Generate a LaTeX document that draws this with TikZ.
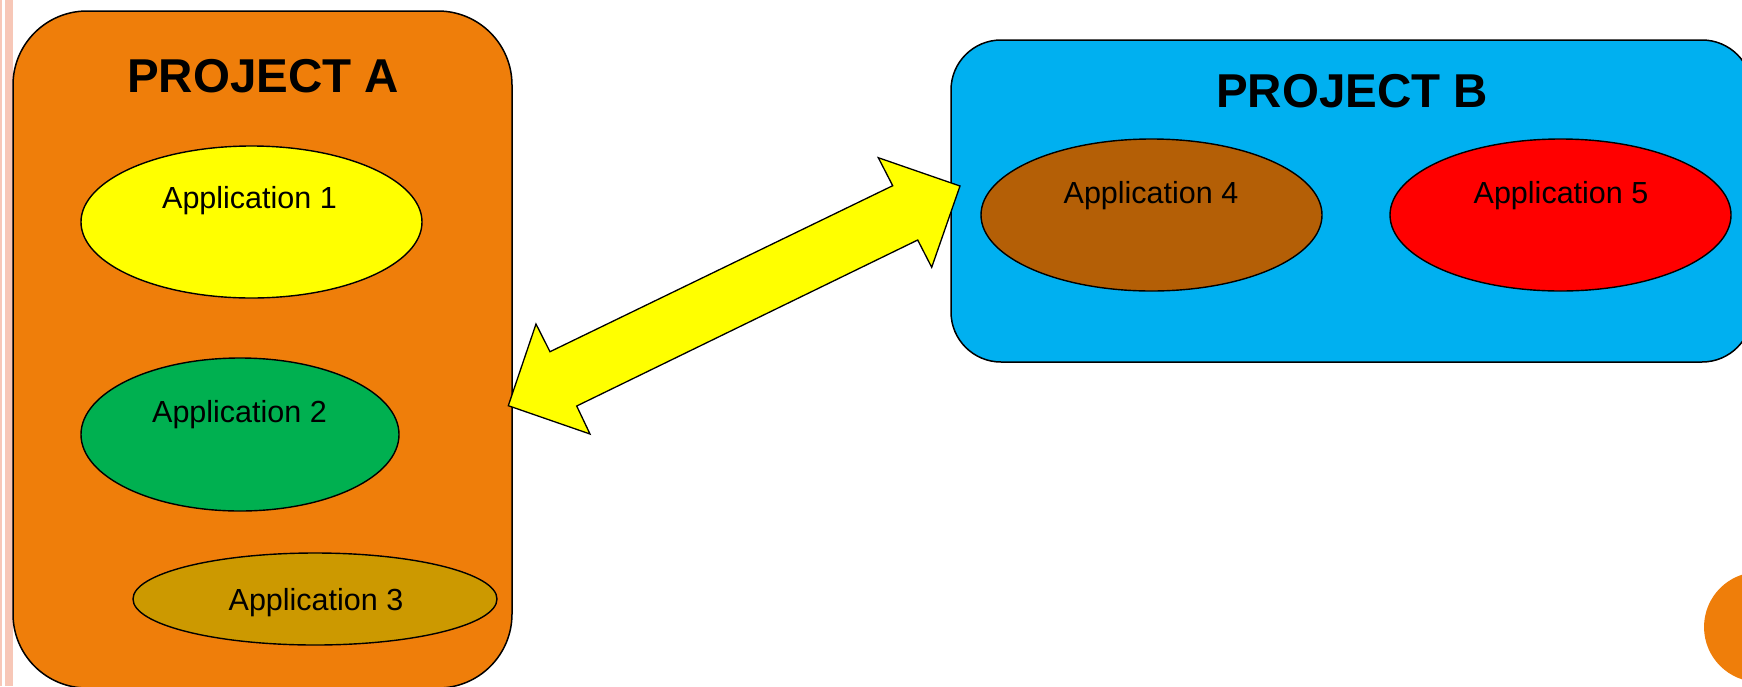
\documentclass[tikz,border=0pt]{standalone}
\usepackage{fontspec}
\setmainfont{Liberation Sans}
\usetikzlibrary{shapes.geometric}
\definecolor{projA}{HTML}{EF7E0A}
\definecolor{projB}{HTML}{00B0F0}
\definecolor{appyellow}{HTML}{FFFF00}
\definecolor{appgreen}{HTML}{00B050}
\definecolor{appgold}{HTML}{CC9900}
\definecolor{appbrown}{HTML}{B45F06}
\definecolor{appred}{HTML}{FF0000}
\definecolor{stripe}{HTML}{F7C7B7}
\tikzset{
  projbox/.style={draw=black, line width=1.5pt, inner sep=0pt},
  app/.style={ellipse, draw=black, line width=1.4pt, inner sep=0pt},
  applabel/.style={anchor=base, inner sep=0pt, font=\fontsize{30.5}{36}\selectfont},
  projtitle/.style={anchor=base, inner sep=0pt, font=\fontsize{47.5}{56}\selectfont\bfseries},
  bigarrow/.style={fill=appyellow, draw=black, line width=1.3pt, line join=miter}
}
\begin{document}
\begin{tikzpicture}[x=1pt,y=-1pt]
\useasboundingbox (0,0) rectangle (1742,686);
% slide decorations
\fill[stripe] (0,0) rectangle (2,686);
\fill[stripe] (4.5,0) rectangle (12.5,686);
\fill[projA] (1759,627) circle (55);
% project boxes
\node[projbox, fill=projA, rounded corners=74pt, minimum width=499pt, minimum height=677pt] (pa) at (262.5,349.5) {};
\node[projbox, fill=projB, rounded corners=50pt, minimum width=801pt, minimum height=322pt] (pb) at (1351.5,201) {};
\node[projtitle] (ta) at (263,92.5) {PROJECT A};
\node[projtitle] (tb) at (1352,107) {PROJECT B};
% applications
\node[app, fill=appyellow, minimum width=341pt, minimum height=152pt] (a1) at (251.5,222) {};
\node[applabel] (l1) at (249.5,208) {Application 1};
\node[app, fill=appgreen, minimum width=318pt, minimum height=153pt] (a2) at (240,434.5) {};
\node[applabel] (l2) at (239.5,422) {Application 2};
\node[app, fill=appgold, minimum width=364pt, minimum height=92pt] (a3) at (315,599) {};
\node[applabel] (l3) at (316,610) {Application 3};
\node[app, fill=appbrown, minimum width=341pt, minimum height=152pt] (a4) at (1151.5,215) {};
\node[applabel] (l4) at (1151,203) {Application 4};
\node[app, fill=appred, minimum width=341pt, minimum height=152pt] (a5) at (1560.5,215) {};
\node[applabel] (l5) at (1561,203) {Application 5};
% double block arrow between the projects
\coordinate (tipL) at (508.3,405.7);
\coordinate (tipR) at (960,186);
\draw[bigarrow] (tipL) -- (536,324) -- (550,351.7) -- (892.7,185.7) -- (878.3,157.7)
  -- (tipR) -- (931.7,267.3) -- (917.7,240) -- (576.7,406) -- (590,434) -- cycle;
\end{tikzpicture}
\end{document}
